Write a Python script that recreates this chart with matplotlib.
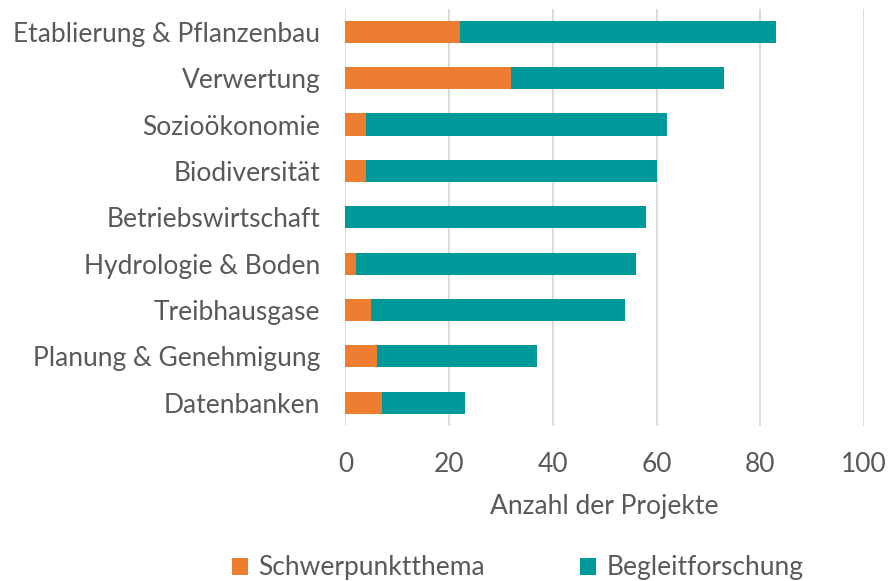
import numpy as np
import matplotlib.pyplot as plt

plt.rcParams['font.family'] = ['Lato', 'DejaVu Sans']

# data (top to bottom)
categories = ["Etablierung & Pflanzenbau", "Verwertung", "Sozioökonomie",
              "Biodiversität", "Betriebswirtschaft", "Hydrologie & Boden",
              "Treibhausgase", "Planung & Genehmigung", "Datenbanken"]
schwerpunkt = [22, 32, 4, 4, 0, 2, 5, 6, 7]
begleit = [61, 41, 58, 56, 58, 54, 49, 31, 16]
xticks = [0, 20, 40, 60, 80, 100]

orange = "#ED7D31"
teal = "#009999"
grey = "#595959"
fs = 19

fig = plt.figure(figsize=(8.88, 5.81), dpi=100)
ax = fig.add_axes([0.389, 0.267, 0.584, 0.718])

y = np.arange(len(categories))
ax.barh(y, schwerpunkt, height=0.48, color=orange, label="Schwerpunktthema", zorder=3)
ax.barh(y, begleit, left=schwerpunkt, height=0.48, color=teal,
        label="Begleitforschung", zorder=3)

ax.set_ylim(len(categories) - 0.5, -0.5)
ax.set_xlim(0, 100)
ax.set_yticks(y)
ax.set_yticklabels(categories)
ax.set_xticks(xticks)

ax.grid(axis="x", color="#d9d9d9", linewidth=1.3, zorder=0)
for s in ax.spines.values():
    s.set_visible(False)
ax.tick_params(axis="both", length=0, labelsize=fs, colors=grey)
ax.tick_params(axis="x", pad=19)
ax.tick_params(axis="y", pad=18)
ax.set_xlabel("Anzahl der Projekte", fontsize=fs, color=grey, labelpad=12)

fig.legend(loc="lower center", bbox_to_anchor=(0.583, -0.04), ncol=2,
           frameon=False, fontsize=fs, labelcolor=grey, handlelength=0.6,
           handleheight=0.6, columnspacing=3.6, handletextpad=0.4)

fig.savefig("out.png", dpi=100)
